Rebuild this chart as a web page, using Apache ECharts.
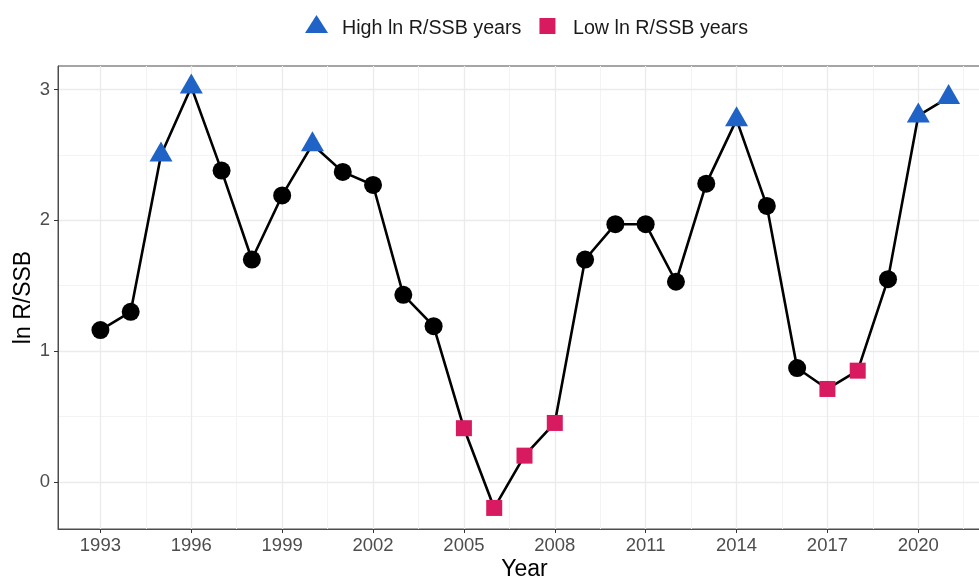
<!DOCTYPE html>
<html>
<head>
<meta charset="utf-8">
<title>ln R/SSB by year</title>
<script src="https://cdn.jsdelivr.net/npm/echarts@6/dist/echarts.min.js"></script>
<style>
  html, body { margin: 0; padding: 0; background: #fff; }
  #chart { width: 979px; height: 577px; }
</style>
</head>
<body>
<div id="chart"></div>
<script>
// Recruitment per spawning stock biomass (log scale), by year
const years = [1993, 1994, 1995, 1996, 1997, 1998, 1999, 2000, 2001, 2002,
               2003, 2004, 2005, 2006, 2007, 2008, 2009, 2010, 2011, 2012,
               2013, 2014, 2015, 2016, 2017, 2018, 2019, 2020, 2021];
const lnRSSB = [1.16, 1.30, 2.50, 3.02, 2.38, 1.70, 2.19, 2.58, 2.37, 2.27,
                1.43, 1.19, 0.41, -0.20, 0.20, 0.45, 1.70, 1.97, 1.97, 1.53,
                2.28, 2.77, 2.11, 0.87, 0.71, 0.85, 1.55, 2.80, 2.94];
const highYears = [1995, 1996, 2000, 2014, 2020, 2021];
const lowYears = [2005, 2006, 2007, 2008, 2017, 2018];

const xTicks = [1993, 1996, 1999, 2002, 2005, 2008, 2011, 2014, 2017, 2020];
const xMinorGrid = [1994.5, 1997.5, 2000.5, 2003.5, 2006.5, 2009.5, 2012.5, 2015.5, 2018.5, 2021.5];
const yTicks = [0, 1, 2, 3];
const yMinorGrid = [0.5, 1.5, 2.5];

const highName = 'High ln R/SSB years';
const lowName = 'Low ln R/SSB years';

const pairs = years.map((y, i) => [y, lnRSSB[i]]);
const highPts = pairs.filter(p => highYears.includes(p[0]));
const lowPts = pairs.filter(p => lowYears.includes(p[0]));
const otherPts = pairs.filter(p => !highYears.includes(p[0]) && !lowYears.includes(p[0]));

const majorGrid = { color: '#EBEBEB', width: 1.3, type: 'solid' };
const minorGrid = { color: '#F3F3F3', width: 1, type: 'solid' };
const gridLines = [].concat(
  yMinorGrid.map(v => ({ yAxis: v, lineStyle: minorGrid })),
  xMinorGrid.map(v => ({ xAxis: v, lineStyle: minorGrid })),
  yTicks.map(v => ({ yAxis: v, lineStyle: majorGrid })),
  xTicks.map(v => ({ xAxis: v, lineStyle: majorGrid }))
);

// Legend keys: a 23x28 box with the glyph placed in its upper part
const triangleKey = 'path://M0,0M23,28M11.5,0.5L23,18.5L0,18.5Z';
const squareKey = 'path://M0,0M23,28M3.5,3.5L19.5,3.5L19.5,19.5L3.5,19.5Z';

const plainLabel = v => String(v);

const chart = echarts.init(document.getElementById('chart'), null, { renderer: 'canvas' });
chart.setOption({
  animation: false,
  backgroundColor: '#ffffff',
  textStyle: { fontFamily: 'Liberation Sans, Arial, sans-serif' },
  legend: {
    data: [
      { name: highName, icon: triangleKey },
      { name: lowName, icon: squareKey }
    ],
    top: 9.5,
    left: 300,
    itemWidth: 23,
    itemHeight: 28,
    itemGap: 14.5,
    textStyle: { fontSize: 19.7, color: '#1a1a1a', padding: [0, 0, 0, 9] }
  },
  grid: {
    left: 58, right: -12, top: 66, bottom: 48,
    outerBoundsMode: 'none',
    containLabel: false,
    show: true, borderColor: '#4d4d4d', borderWidth: 1, backgroundColor: 'transparent'
  },
  xAxis: {
    type: 'value',
    min: 1991.6,
    max: 2022.4,
    name: 'Year',
    nameLocation: 'middle',
    nameGap: 29,
    nameMoveOverlap: false,
    nameTextStyle: { fontSize: 23, color: '#000' },
    axisLine: { show: true, onZero: false, lineStyle: { color: '#4d4d4d', width: 1 } },
    axisTick: { show: true, length: 4, customValues: xTicks, lineStyle: { color: '#333' } },
    axisLabel: { customValues: xTicks, formatter: plainLabel, fontSize: 18.5, color: '#4d4d4d', margin: 7 },
    splitLine: { show: false }
  },
  yAxis: {
    type: 'value',
    min: -0.361,
    max: 3.18,
    name: 'ln R/SSB',
    nameLocation: 'middle',
    nameGap: 23,
    nameRotate: 90,
    nameMoveOverlap: false,
    nameTextStyle: { fontSize: 23, color: '#000' },
    axisLine: { show: true, onZero: false, lineStyle: { color: '#4d4d4d', width: 1 } },
    axisTick: { show: true, length: 4, customValues: yTicks, lineStyle: { color: '#333' } },
    axisLabel: { customValues: yTicks, formatter: plainLabel, fontSize: 18.5, color: '#4d4d4d', margin: 8 },
    splitLine: { show: false }
  },
  series: [
    {
      name: 'grid',
      type: 'line',
      data: [],
      silent: true,
      z: 0,
      markLine: {
        silent: true,
        z: 0,
        symbol: 'none',
        label: { show: false },
        animation: false,
        data: gridLines
      }
    },
    {
      name: 'ln R/SSB',
      type: 'line',
      data: pairs,
      showSymbol: false,
      symbol: 'none',
      lineStyle: { color: '#000', width: 2.6 },
      z: 2
    },
    {
      name: 'other',
      type: 'scatter',
      data: otherPts,
      symbol: 'circle',
      symbolSize: 18,
      itemStyle: { color: '#000', opacity: 1 },
      z: 3
    },
    {
      name: highName,
      type: 'scatter',
      data: highPts,
      symbol: 'triangle',
      symbolSize: [23, 20],
      symbolOffset: [0, -3.3],
      itemStyle: { color: '#1F63C6', opacity: 1 },
      z: 3
    },
    {
      name: lowName,
      type: 'scatter',
      data: lowPts,
      symbol: 'rect',
      symbolSize: 16,
      itemStyle: { color: '#D81B60', opacity: 1 },
      z: 3
    }
  ]
});
</script>
</body>
</html>
